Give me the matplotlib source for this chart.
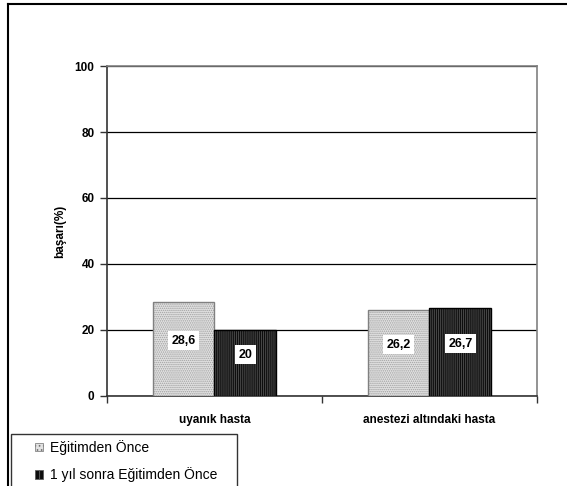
import matplotlib.pyplot as plt
from matplotlib.lines import Line2D
from matplotlib.patches import Patch, Rectangle
import numpy as np

plt.rcParams['font.family'] = ['Liberation Sans', 'DejaVu Sans']
plt.rcParams['hatch.linewidth'] = 0.7

categories = ["uyanık hasta", "anestezi altındaki hasta"]
series_names = ["Eğitimden Önce", "1 yıl sonra Eğitimden Önce"]
before = [28.6, 26.2]
after_1y = [20, 26.7]
before_lbl = ["28,6", "26,2"]
after_lbl = ["20", "26,7"]
yticks = [0, 20, 40, 60, 80, 100]

W, H = 567, 486
fig = plt.figure(figsize=(W / 100, H / 100), dpi=100)
ax = fig.add_axes([107 / W, 1 - 396 / H, 430 / W, 330 / H])

x = np.arange(len(categories))
bw = 0.288
styles = [
    dict(face="#e2e2e2", hatch="........", hcol="#a0a0a0", edge="#808080"),
    dict(face="#0d0d0d", hatch="||||||||", hcol="#4a4a4a", edge="#000000"),
]
for vals, offs, st in [(before, -bw / 2, styles[0]), (after_1y, bw / 2, styles[1])]:
    ax.bar(x + offs, vals, bw, color=st["face"], hatch=st["hatch"],
           edgecolor=st["hcol"], linewidth=0, zorder=3)
    ax.bar(x + offs, vals, bw, fill=False, edgecolor=st["edge"], linewidth=1, zorder=4)

for vals, lbls, offs in [(before, before_lbl, -bw / 2), (after_1y, after_lbl, bw / 2)]:
    for xi, v, t in zip(x, vals, lbls):
        ax.text(xi + offs, v / 2 + 2.5, t, ha="center", va="center", fontsize=9,
                fontweight="bold", zorder=5,
                bbox=dict(facecolor="white", edgecolor="none", pad=2.5))

ax.set_xlim(-0.5, 1.5)
ax.set_ylim(0, 100)
ax.set_yticks(yticks)
ax.set_yticklabels([str(t) for t in yticks], fontsize=8.5, fontweight="bold")
ax.yaxis.grid(True, color="black", linewidth=0.9, zorder=0)
ax.set_axisbelow(True)
ax.set_xticks([-0.5, 0.5, 1.5])
ax.set_xticklabels([])
ax.set_xticks(x, minor=True)
ax.set_xticklabels(categories, minor=True, fontsize=8.5, fontweight="bold")
ax.tick_params(axis="x", which="minor", length=0, pad=13)
ax.tick_params(axis="x", which="major", length=5, width=1, color="#333333")
ax.tick_params(axis="y", length=5, width=1, color="#333333", pad=4)
ax.set_ylabel("başarı(%)", fontsize=8.5, fontweight="bold", labelpad=6)

for s in ["left", "bottom"]:
    ax.spines[s].set_color("#333333")
    ax.spines[s].set_linewidth(1.2)
for s in ["top", "right"]:
    ax.spines[s].set_color("#808080")
    ax.spines[s].set_linewidth(1.2)

# outer chart border (top and left visible)
fig.add_artist(Line2D([8 / W, 1], [1 - 4 / H, 1 - 4 / H], color="black", linewidth=1.5))
fig.add_artist(Line2D([8 / W, 8 / W], [0, 1 - 4 / H], color="black", linewidth=1.5))

# legend frame runs off the bottom of the picture
fig.add_artist(Rectangle((11 / W, -20 / H), 226 / W, (20 + H - 434) / H,
                         transform=fig.transFigure, fill=False,
                         edgecolor="#333333", linewidth=1))
handles = [
    Patch(facecolor=styles[0]["face"], hatch="....", edgecolor="#707070", linewidth=0.5),
    Patch(facecolor=styles[1]["face"], hatch="||||", edgecolor="#5a5a5a", linewidth=0.5),
]
fig.legend(handles, series_names, loc="upper left",
           bbox_to_anchor=(35 / W, 1 - 440 / H), borderaxespad=0, borderpad=0,
           fontsize=10, frameon=False,
           handlelength=0.6, handleheight=0.6, handletextpad=0.5,
           labelspacing=0.9)

fig.savefig("out.png", dpi=100)
